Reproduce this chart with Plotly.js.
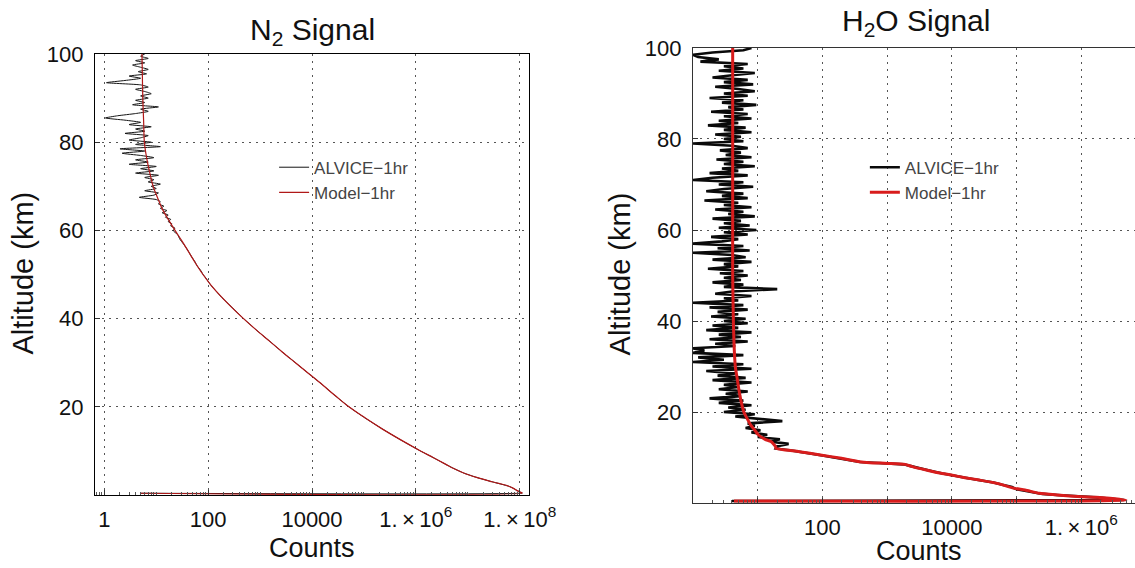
<!DOCTYPE html>
<html>
<head>
<meta charset="utf-8">
<script src="https://cdn.plot.ly/plotly-3.0.1.min.js"></script>
<style>html,body{margin:0;padding:0;background:#fff;}#chart{width:1135px;height:568px;}</style>
</head>
<body>
<div id="chart"></div>
<script>
// ---------- N2 panel ----------
const n2DataAlt = [100,99.5,99,98.5,98,97.5,97,96.5,96,95.5,
  95,94.5,94,93.5,93,92.5,92,91.5,91,90.5,
  90,89.5,89,88.5,88,87.5,87,86.5,86,85.5,
  85,84.5,84,83.5,83,82.5,82,81.5,81,80.5,
  80,79.5,79,78.5,78,77.5,77,76.5,76,75.5,
  75,74.5,74,73.5,73,72.5,72,71.5,71,70.5,
  70,69.5,69,68.5,68,67.5,67,66.5,66,65.5,
  65,64.5,64,63.5,63,62.5,62,61.5,61,60.5,
  60,
  59,58,57,56,55,54,53,52,51,50,49,48,47,46,45,
  42.5,40,37.5,35,32.5,30,27.5,25,22.5,20,17.5,15,12.5,10,
  8.5,7,6,5,4,3,2,1.5,1,0.6,0.45,0.4];
const n2DataCounts = [6,5,7,4,6,3.5,5,7,4.5,6.5,
  3,5,2.5,1.1,5,7,4,6,8,5,
  7,4,6,3.5,11,5,7,4,1.8,1.05,
  2.5,5,3,8,4,6,2.5,7,5,3,
  8,4,12,2,6,2.2,5,9,4,7,
  3,10,5,9,4,11,6,9,7,12,
  8,10,6,11,9,4.7,10,12,11,14,
  12,16,13,17,15,19,17,20,19,23,
  21,
  26,28.5,33,38,43,48,55,61,71,80,93,106,124,148,176,
  290,482,828,1490,2620,4800,8700,15900,28100,51500,104000,225000,510000,1.22e6,
  2.15e6,3.7e6,5.4e6,8.3e6,1.47e7,2.95e7,6.1e7,7.6e7,8.9e7,1.05e8,1.12e8,5];

const n2ModelAlt = [100,95,90,85,80,77.5,75,72.5,70,67.5,65,62.5,60,57.5,55,52.5,50,47.5,45,42.5,40,37.5,35,32.5,30,27.5,25,22.5,20,17.5,15,12.5,10,8.5,7,6,5,4,3,2,1.5,1,0.6,0.45,0.4];
const n2ModelCounts = [5.3,5.4,5.5,5.7,5.9,6.3,6.9,7.7,8.7,10.5,12.9,17,23,31.6,42.7,57.5,79.4,115,178,288,479,832,1479,2630,4786,8710,15850,28180,51300,104700,223900,512900,1.23e6,2.14e6,3.72e6,5.37e6,8.32e6,1.48e7,2.95e7,6.17e7,7.59e7,8.91e7,1.05e8,1.12e8,5];

const n2TickVals = [1,100,10000,1e6,1e8];
const n2TickText = ['1','100','10000','1.\u2009\u00d7\u200910<sup>6</sup>','1.\u2009\u00d7\u200910<sup>8</sup>'];

// ---------- H2O panel ----------
const h2oDataAlt = [100,99.5,99,98.5,98,97.5,97,96.5,96,95.5,
  95,94.5,94,93.5,93,92.5,92,91.5,91,90.5,
  90,89.5,89,88.5,88,87.5,87,86.5,86,85.5,
  85,84.5,84,83.5,83,82.5,82,81.5,81,80.5,
  80,79.5,79,78.5,78,77.5,77,76.5,76,75.5,
  75,74.5,74,73.5,73,72.5,72,71.5,71,70.5,
  70,69.5,69,68.5,68,67.5,67,66.5,66,65.5,
  65,64.5,64,63.5,63,62.5,62,61.5,61,60.5,
  60,59.5,59,58.5,58,57.5,57,56.5,56,55.5,
  55,54.5,54,53.5,53,52.5,52,51.5,51,50.5,
  50,49.5,49,48.5,48,47.5,47,46.5,46,45.5,
  45,44.5,44,43.5,43,42.5,42,41.5,41,40.5,
  40,39.5,39,38.5,38,37.5,37,36.5,36,35.5,
  35,34.5,34,33.5,33,32.5,32,31.5,31,30.5,
  30,29.5,29,28.5,28,27.5,27,26.5,26,25.5,
  25,24.5,24,23.5,23,22.5,22,21.5,21,20.5,
  20,19.5,19,18.5,18,17.5,17,16.5,16,15.5,
  15,14.5,14,13.5,13,12.5,12,11.5,11,
  10.5,10,9.5,9,8.7,8.5,8,7.5,7,6.5,6,5.5,5,4.5,4,3.5,3,2.5,2,1.75,1.4,1.25,0.66,0.44];
const h2oDataCounts = [8,6,2,1,1.2,2.5,1.3,7,3,6,
  2.5,9,4,2,7,3,8.5,2.2,5,9,
  3,7,1.8,6,2.8,9.5,3.5,6,1.9,7,
  3,8,2.5,5,1.7,6.5,3,8,2.2,5.5,
  3,6,1,4,7,2.6,5.5,3.2,8,2.3,
  6,3,9,2.8,5,1.8,7,2,1,6,
  2.5,8.5,3,1.6,6,2.8,7,1.5,5,3,
  8,2.2,6,3.5,9,2,5.5,3,7.5,2.5,
  9.5,3,7,1.9,5,2.8,1,6,2.4,7.5,
  1,4,6.5,2,8,3,5,1.7,6,2.6,
  7,3,5.5,2,6,3,20,4,2.2,8,
  3,5,1,6,1.8,7,2.4,5,1.9,6.5,
  3,7,2,5,1.6,8,2.5,5.5,1.8,7,
  2.2,4.5,1,1.5,1,6,1.2,3,1,6,
  2,8,1.6,4.5,2.4,6.5,2,8,3,5,
  2.5,7,3.2,5.5,1.8,6,2.5,8,3.5,6.5,
  3,9,4.5,10,24,7,9,6.5,11,8,
  14,10,22,16,30,20,19,35,62,
  95,150,250,380,1000,1800,2500,3400,5000,7200,10500,17000,27000,44000,60000,85000,100000,170000,250000,420000,1.0e6,1.7e6,4.6e6,4];

const h2oModelAlt = [100,90,80,70,60,50,40,35,30,27.5,25,22.5,20,18.5,17,16,15,14,13.5,12.3,12.02,11.28,10.55,9.82,9.08,8.86,8.71,8.49,7.99,6.89,6.15,5.57,5.05,4.32,3.22,2.86,2.13,1.76,1.39,1.25,0.66,0.44];
const h2oModelCounts = [4.1,4.1,4.1,4.1,4.1,4.1,4.2,4.3,4.5,4.8,5.1,5.5,6.1,6.9,7.9,9,10.2,13,16,19,19,44,93,197,371,540,1010,1900,2450,5200,9800,16000,26600,50000,93000,135000,224000,427000,1.02e6,1.7e6,4.9e6,4.3];

const h2oTickVals = [10,100,1000,10000,1e5,1e6];
const h2oTickText = ['','100','','10000','','1.\u2009\u00d7\u200910<sup>6</sup>'];

const altTickVals = [20,40,60,80,100];
const altTickText = ['20','40','60','80','100'];

const FONT = 'Liberation Sans, Arial, Helvetica, sans-serif';

const traces = [
  {x: n2DataCounts, y: n2DataAlt, type: 'scatter', mode: 'lines', name: 'ALVICE\u22121hr',
   line: {color: '#151515', width: 1, shape: 'spline', smoothing: 0.5}, xaxis: 'x', yaxis: 'y', legend: 'legend'},
  {x: n2ModelCounts, y: n2ModelAlt, type: 'scatter', mode: 'lines', name: 'Model\u22121hr',
   line: {color: '#b01818', width: 1.2, shape: 'spline', smoothing: 1}, xaxis: 'x', yaxis: 'y', legend: 'legend'},
  {x: h2oDataCounts, y: h2oDataAlt, type: 'scatter', mode: 'lines', name: 'ALVICE\u22121hr',
   line: {color: '#0a0a0a', width: 2.6}, xaxis: 'x2', yaxis: 'y2', legend: 'legend2'},
  {x: h2oModelCounts, y: h2oModelAlt, type: 'scatter', mode: 'lines', name: 'Model\u22121hr',
   line: {color: '#d81c1c', width: 3, shape: 'spline', smoothing: 0.6}, xaxis: 'x2', yaxis: 'y2', legend: 'legend2'}
];

const gridCommon = {showgrid: true, gridcolor: '#555', griddash: '2px,5px', gridwidth: 1,
  showline: true, linecolor: '#000', linewidth: 1.2, zeroline: false,
  ticks: 'inside', ticklen: 5, tickcolor: '#333',
  tickfont: {family: FONT, size: 22, color: '#111'}};
const logMinor = {ticks: 'inside', ticklen: 3, tickcolor: '#555', dtick: 'D1', showgrid: false};

const layout = {
  width: 1135, height: 568,
  margin: {l: 0, r: 0, t: 0, b: 0},
  paper_bgcolor: '#fff', plot_bgcolor: '#fff',
  font: {family: FONT, color: '#111'},
  xaxis: Object.assign({}, gridCommon, {domain: [0.0837, 0.4661], type: 'log', range: [-0.18, 8.18],
    anchor: 'y', tickmode: 'array', tickvals: n2TickVals, ticktext: n2TickText, mirror: true,
    ticklabelstandoff: 4, minor: logMinor}),
  yaxis: Object.assign({}, gridCommon, {domain: [0.1285, 0.9049], range: [0, 100], anchor: 'x',
    tickmode: 'array', tickvals: altTickVals, ticktext: altTickText, mirror: true, ticklabelstandoff: 6}),
  xaxis2: Object.assign({}, gridCommon, {domain: [0.6106, 1], type: 'log', range: [0, 6.83],
    anchor: 'y2', tickmode: 'array', tickvals: h2oTickVals, ticktext: h2oTickText, mirror: true,
    linecolor: '#333', ticklabelstandoff: 4, minor: logMinor}),
  yaxis2: Object.assign({}, gridCommon, {domain: [0.1144, 0.9155], range: [0, 100], anchor: 'x2',
    tickmode: 'array', tickvals: altTickVals, ticktext: altTickText, mirror: false,
    linecolor: '#333', ticklabelstandoff: 6}),
  showlegend: true,
  legend: {x: 0.2415, y: 0.7365, xanchor: 'left', yanchor: 'top', bgcolor: 'rgba(0,0,0,0)',
    font: {family: FONT, size: 17, color: '#444'}, itemwidth: 30, tracegroupgap: 0},
  legend2: {x: 0.762, y: 0.7365, xanchor: 'left', yanchor: 'top', bgcolor: 'rgba(0,0,0,0)',
    font: {family: FONT, size: 17, color: '#444'}, itemwidth: 30, tracegroupgap: 0},
  annotations: [
    {text: 'N<sub>2</sub> Signal', xref: 'paper', yref: 'paper', x: 0.2749, y: 0.9454,
     xanchor: 'center', yanchor: 'middle', showarrow: false, font: {family: FONT, size: 30, color: '#111'}},
    {text: 'H<sub>2</sub>O Signal', xref: 'paper', yref: 'paper', x: 0.807, y: 0.9604,
     xanchor: 'center', yanchor: 'middle', showarrow: false, font: {family: FONT, size: 30, color: '#111'}},
    {text: 'Altitude (km)', xref: 'paper', yref: 'paper', x: 0.0203, y: 0.5185, textangle: -90,
     xanchor: 'center', yanchor: 'middle', showarrow: false, font: {family: FONT, size: 29, color: '#111'}},
    {text: 'Altitude (km)', xref: 'paper', yref: 'paper', x: 0.5471, y: 0.5185, textangle: -90,
     xanchor: 'center', yanchor: 'middle', showarrow: false, font: {family: FONT, size: 29, color: '#111'}},
    {text: 'Counts', xref: 'paper', yref: 'paper', x: 0.2749, y: 0.0352,
     xanchor: 'center', yanchor: 'middle', showarrow: false, font: {family: FONT, size: 27, color: '#111'}},
    {text: 'Counts', xref: 'paper', yref: 'paper', x: 0.8097, y: 0.0,
     xanchor: 'center', yanchor: 'bottom', showarrow: false, font: {family: FONT, size: 27, color: '#111'}}
  ]
};

Plotly.newPlot('chart', traces, layout, {staticPlot: true, displayModeBar: false});
</script>
</body>
</html>
